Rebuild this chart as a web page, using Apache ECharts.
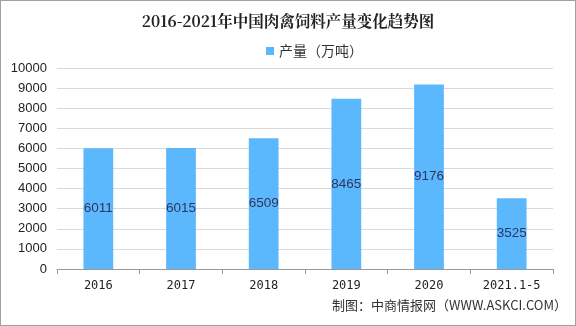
<!DOCTYPE html>
<html><head><meta charset="utf-8">
<script src="https://cdn.jsdelivr.net/npm/echarts@6/dist/echarts.min.js"></script>
<style>html,body{margin:0;padding:0;background:#fff}#c{width:576px;height:326px;box-sizing:border-box;border:1px solid #a0a0a0}</style>
</head><body><div id="c"></div>
<script>
const categories = ['2016','2017','2018','2019','2020','2021.1-5'];
const values = [6011, 6015, 6509, 8465, 9176, 3525];
const seriesName = '产量（万吨）';
const titleText = '2016-2021年中国肉禽饲料产量变化趋势图';
const sourceText = '制图：中商情报网（WWW.ASKCI.COM）';

const chart = echarts.init(document.getElementById('c'), null, {renderer:'canvas'});
chart.setOption({
  animation:false,
  title:{text:titleText,left:'center',top:7,textStyle:{fontFamily:'"Noto Serif CJK SC","Noto Sans CJK SC",serif',fontSize:15.5,fontWeight:'bold',color:'#222'}},
  legend:{data:[seriesName],top:38,left:260,itemWidth:8,itemHeight:8,itemGap:2,icon:'rect',textStyle:{fontFamily:'"Noto Sans CJK SC",sans-serif',fontSize:14,color:'#333'}},
  graphic:[{type:'text',right:8,top:298,style:{text:sourceText,fontFamily:'"Noto Sans CJK SC",sans-serif',fontSize:13,fill:'#333'}}],
  grid:{left:56,right:22,top:67,bottom:56,containLabel:false},
  xAxis:{type:'category',data:categories,
    axisLine:{lineStyle:{color:'#999'}},
    axisTick:{show:true,alignWithLabel:false,lineStyle:{color:'#999'}},
    axisLabel:{color:'#222',fontFamily:'"DejaVu Sans Mono",monospace',fontSize:12,margin:11}},
  yAxis:{type:'value',min:0,max:10000,interval:1000,
    axisLine:{show:false},axisTick:{show:false},
    splitLine:{lineStyle:{color:'#d9d9d9'}},
    axisLabel:{color:'#222',fontFamily:'"Liberation Sans",Arial,sans-serif',fontSize:13,margin:10,formatter:v=>String(v)}},
  series:[{name:seriesName,type:'bar',data:values,barWidth:'36%',
    itemStyle:{color:'#5CB8FD'},
    label:{show:true,position:'inside',color:'#2c3563',fontFamily:'"Liberation Sans",Arial,sans-serif',fontSize:13.5}}]
});
</script></body></html>
